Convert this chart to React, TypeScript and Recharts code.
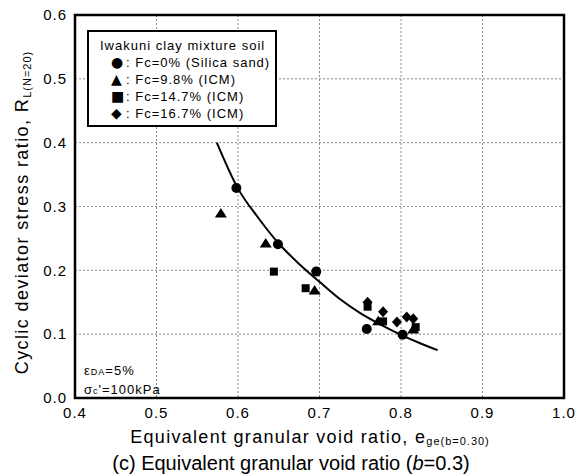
import {
  ComposedChart,
  Scatter,
  Line,
  XAxis,
  YAxis,
  CartesianGrid,
  ReferenceArea,
} from 'recharts';

const xTicks = [0.4, 0.5, 0.6, 0.7, 0.8, 0.9, 1.0];
const yTicks = [0.0, 0.1, 0.2, 0.3, 0.4, 0.5, 0.6];

// Fc=0% (Silica sand)
const silicaSand = [
  { e: 0.598, r: 0.329 },
  { e: 0.649, r: 0.241 },
  { e: 0.696, r: 0.198 },
  { e: 0.758, r: 0.108 },
  { e: 0.802, r: 0.099 },
];
// Fc=9.8% (ICM)
const icm98 = [
  { e: 0.579, r: 0.29 },
  { e: 0.634, r: 0.243 },
  { e: 0.694, r: 0.169 },
  { e: 0.772, r: 0.121 },
  { e: 0.815, r: 0.108 },
];
// Fc=14.7% (ICM)
const icm147 = [
  { e: 0.644, r: 0.198 },
  { e: 0.683, r: 0.172 },
  { e: 0.759, r: 0.143 },
  { e: 0.778, r: 0.12 },
  { e: 0.818, r: 0.111 },
];
// Fc=16.7% (ICM)
const icm167 = [
  { e: 0.759, r: 0.15 },
  { e: 0.778, r: 0.135 },
  { e: 0.795, r: 0.119 },
  { e: 0.807, r: 0.127 },
  { e: 0.815, r: 0.124 },
];
// fitted curve
const fitCurve = [
  { e: 0.574, r: 0.4 },
  { e: 0.6, r: 0.328 },
  { e: 0.625, r: 0.282 },
  { e: 0.65, r: 0.242 },
  { e: 0.675, r: 0.21 },
  { e: 0.7, r: 0.182 },
  { e: 0.725, r: 0.155 },
  { e: 0.75, r: 0.133 },
  { e: 0.775, r: 0.115 },
  { e: 0.8, r: 0.099 },
  { e: 0.825, r: 0.085 },
  { e: 0.845, r: 0.075 },
];

const FONT = 'Arial, "Liberation Sans", sans-serif';

const CircleMark = (p: any) => <circle cx={p.cx} cy={p.cy} r={5} fill="#000" />;
const TriangleMark = (p: any) => (
  <polygon
    points={`${p.cx},${p.cy - 5} ${p.cx - 6},${p.cy + 4.5} ${p.cx + 6},${p.cy + 4.5}`}
    fill="#000"
  />
);
const SquareMark = (p: any) => (
  <rect x={p.cx - 4} y={p.cy - 4} width={8} height={8} fill="#000" />
);
const DiamondMark = (p: any) => (
  <polygon
    points={`${p.cx},${p.cy - 5.5} ${p.cx + 5},${p.cy} ${p.cx},${p.cy + 5.5} ${p.cx - 5},${p.cy}`}
    fill="#000"
  />
);

const legendRows = [
  { sym: '●', text: ': Fc=0% (Silica sand)' },
  { sym: '▲', text: ': Fc=9.8% (ICM)' },
  { sym: '■', text: ': Fc=14.7% (ICM)' },
  { sym: '◆', text: ': Fc=16.7% (ICM)' },
];

export default function App() {
  return (
    <div
      style={{
        position: 'absolute',
        left: 0,
        top: 0,
        width: 582,
        height: 476,
        background: '#fff',
        fontFamily: FONT,
        color: '#000',
      }}
    >
      <ComposedChart
        width={582}
        height={476}
        margin={{ top: 15, right: 18, bottom: 48, left: 0 }}
      >
        <CartesianGrid stroke="#8a8a8a" strokeDasharray="2 2" />
        <XAxis
          type="number"
          dataKey="e"
          domain={[0.4, 1.0]}
          ticks={xTicks}
          tickFormatter={(v) => v.toFixed(1)}
          axisLine={false}
          tickLine={false}
          tickSize={0}
          tickMargin={9}
          height={30}
          tick={{ fill: '#000', fontSize: 15, fontFamily: FONT, letterSpacing: 1 }}
        />
        <YAxis
          type="number"
          dataKey="r"
          domain={[0, 0.6]}
          ticks={yTicks}
          tickFormatter={(v) => v.toFixed(1)}
          axisLine={false}
          tickLine={false}
          tickSize={0}
          tickMargin={8}
          width={75}
          tick={{ fill: '#000', fontSize: 15, fontFamily: FONT, letterSpacing: 1 }}
        />
        <ReferenceArea
          x1={0.4}
          x2={1.0}
          y1={0}
          y2={0.6}
          fill="none"
          stroke="#000"
          strokeWidth={2.5}
        />
        <Line
          data={fitCurve}
          dataKey="r"
          type="monotone"
          dot={false}
          stroke="#000"
          strokeWidth={2}
          isAnimationActive={false}
        />
        <Scatter data={silicaSand} dataKey="r" shape={CircleMark} isAnimationActive={false} />
        <Scatter data={icm98} dataKey="r" shape={TriangleMark} isAnimationActive={false} />
        <Scatter data={icm147} dataKey="r" shape={SquareMark} isAnimationActive={false} />
        <Scatter data={icm167} dataKey="r" shape={DiamondMark} isAnimationActive={false} />
      </ComposedChart>

      {/* legend box */}
      <div
        style={{
          position: 'absolute',
          left: 87,
          top: 30,
          width: 190,
          height: 97,
          border: '2px solid #000',
          background: '#fff',
          fontSize: 13,
          lineHeight: '17px',
          letterSpacing: 1,
          boxSizing: 'border-box',
          paddingLeft: 11,
          paddingTop: 5,
        }}
      >
        <div>Iwakuni clay mixture soil</div>
        {legendRows.map((row) => (
          <div key={row.text} style={{ paddingLeft: 11, whiteSpace: 'nowrap' }}>
            <span
              style={{
                display: 'inline-block',
                width: 15,
                fontFamily: '"DejaVu Sans"',
                fontSize: 14,
                letterSpacing: 0,
              }}
            >
              {row.sym}
            </span>
            {row.text}
          </div>
        ))}
      </div>

      {/* annotation */}
      <div
        style={{
          position: 'absolute',
          left: 84,
          top: 362,
          fontSize: 13,
          lineHeight: '18px',
          letterSpacing: 1,
          whiteSpace: 'nowrap',
        }}
      >
        <div>
          ε<sub style={{ fontSize: 9, verticalAlign: 'baseline' }}>DA</sub>=5%
        </div>
        <div>
          σ<sub style={{ fontSize: 9, verticalAlign: 'baseline' }}>c</sub>'=100kPa
        </div>
      </div>

      {/* x label */}
      <div
        style={{
          position: 'absolute',
          left: 0,
          width: 620,
          top: 426,
          height: 22,
          lineHeight: '22px',
          textAlign: 'center',
          fontSize: 18,
          letterSpacing: 1.3,
          whiteSpace: 'nowrap',
        }}
      >
        Equivalent granular void ratio, e
        <span style={{ fontSize: 11, position: 'relative', top: 2, letterSpacing: 1 }}>ge(b=0.30)</span>
      </div>

      {/* y label */}
      <div
        style={{
          position: 'absolute',
          left: 22,
          top: 214,
          width: 420,
          marginLeft: -210,
          marginTop: -12,
          textAlign: 'center',
          fontSize: 18,
          letterSpacing: 1.4,
          whiteSpace: 'nowrap',
          transform: 'rotate(-90deg)',
        }}
      >
        Cyclic deviator stress ratio, R
        <sub style={{ fontSize: 11, verticalAlign: '-3px', letterSpacing: 1 }}>L(N=20)</sub>
      </div>

      {/* caption */}
      <div
        style={{
          position: 'absolute',
          left: 0,
          width: 582,
          top: 451,
          height: 24,
          lineHeight: '24px',
          textAlign: 'center',
          fontSize: 20,
          fontFamily: '"Liberation Sans Narrow", Arial, sans-serif',
          whiteSpace: 'nowrap',
        }}
      >
        (c) Equivalent granular void ratio (<i>b</i>=0.3)
      </div>
    </div>
  );
}
